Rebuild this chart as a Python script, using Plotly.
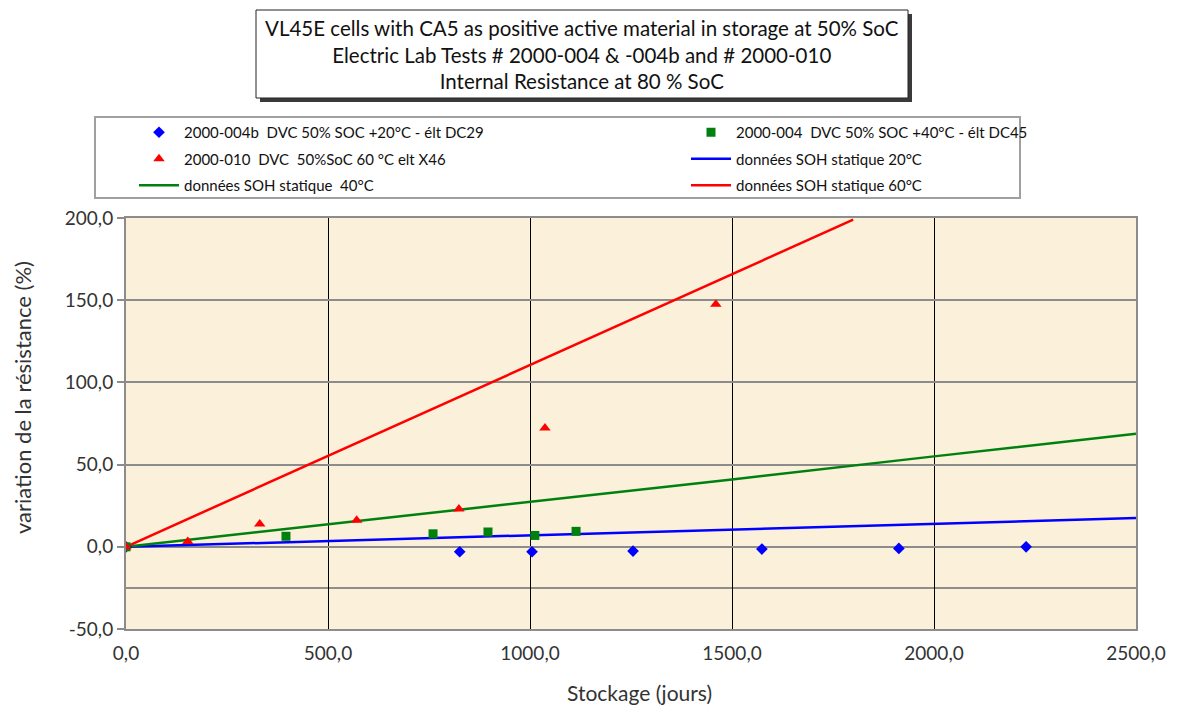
import plotly.graph_objects as go

# ---- data ----
days_20 = [0, 826, 1005, 1255, 1574, 1913, 2228]
res_20 = [0.0, -3.0, -3.0, -2.6, -1.4, -1.0, 0.0]

days_40 = [0, 396, 760, 896, 1012, 1114]
res_40 = [0.0, 6.4, 7.9, 9.0, 6.9, 9.4]

days_60 = [0, 153, 331, 571, 824, 1037, 1460]
res_60 = [0.0, 3.2, 13.9, 16.1, 23.0, 72.2, 147.5]

soh_days_20 = [0, 500, 1000, 1500, 2000, 2500]
soh_res_20 = [0.0, 3.5, 7.0, 10.5, 14.0, 17.5]

soh_days_40 = [0, 500, 1000, 1500, 2000, 2500]
soh_res_40 = [0.0, 13.6, 27.4, 41.0, 55.0, 68.7]

soh_days_60 = [0, 500, 1000, 1500, 1800]
soh_res_60 = [0.0, 55.3, 110.5, 165.8, 199.0]

y_tick_vals = [-50, 0, 50, 100, 150, 200]
y_tick_text = ["-50,0", "0,0", "50,0", "100,0", "150,0", "200,0"]

names = [
    "2000-004b  DVC 50% SOC +20°C - élt DC29",
    "2000-004  DVC 50% SOC +40°C - élt DC45",
    "2000-010  DVC  50%SoC 60 °C elt X46",
    "données SOH statique 20°C",
    "données SOH statique  40°C",
    "données SOH statique 60°C",
]
title_lines = [
    "VL45E cells with CA5 as positive active material in storage at 50% SoC",
    "Electric Lab Tests # 2000-004 & -004b and # 2000-010",
    "Internal Resistance at 80 % SoC",
]
x_title = "Stockage (jours)"
y_title = "variation de la résistance (%)"

BLUE = "#0000ff"
GREEN = "#00800f"
RED = "#ff0000"
FONT = "Lato"

fig = go.Figure()
# lines first (drawn underneath), markers on top
# column 1 of the legend -> "legend", column 2 -> "legend2"
fig.add_trace(go.Scatter(x=soh_days_20, y=soh_res_20, mode="lines", name=names[3],
                         line=dict(color=BLUE, width=2.5),
                         legend="legend2", legendrank=2, legendgroup="g4"))
fig.add_trace(go.Scatter(x=soh_days_40, y=soh_res_40, mode="lines", name=names[4],
                         line=dict(color=GREEN, width=2.5),
                         legend="legend", legendrank=3, legendgroup="g5"))
fig.add_trace(go.Scatter(x=soh_days_60, y=soh_res_60, mode="lines", name=names[5],
                         line=dict(color=RED, width=2.5),
                         legend="legend2", legendrank=3, legendgroup="g6"))
fig.add_trace(go.Scatter(x=days_20, y=res_20, mode="markers", name=names[0],
                         marker=dict(symbol="diamond", size=9, color=BLUE),
                         legend="legend", legendrank=1, legendgroup="g1"))
fig.add_trace(go.Scatter(x=days_40, y=res_40, mode="markers", name=names[1],
                         marker=dict(symbol="square", size=9, color=GREEN),
                         legend="legend2", legendrank=1, legendgroup="g2"))
fig.add_trace(go.Scatter(x=days_60, y=res_60, mode="markers", name=names[2],
                         marker=dict(symbol="triangle-up", size=10, color=RED),
                         legend="legend", legendrank=2, legendgroup="g3"))

# page body has an 8px margin: figure sized/positioned to compensate
OFF = 8
W, H = 1179 - OFF, 709 - OFF
L, T = 126 - OFF, 218 - OFF
R, B = 43, 80
pw, ph = W - L - R, H - T - B


def px_x(p):
    return (p - OFF - L) / pw


def px_y(p):
    return (H - B - (p - OFF)) / ph


legend_common = dict(
    orientation="v",
    yanchor="top", xanchor="left",
    borderwidth=0,
    bgcolor="rgba(0,0,0,0)",
    font=dict(family=FONT, size=15, color="#111111"),
    itemwidth=40,
    traceorder="grouped",
    tracegroupgap=4,
)

fig.update_layout(
    width=W, height=H,
    margin=dict(l=L, r=R, t=T, b=B),
    paper_bgcolor="white",
    plot_bgcolor="#fbf0da",
    separators=", ",
    font=dict(family=FONT, size=15, color="#222222"),
    showlegend=True,
    legend=dict(x=px_x(134), y=px_y(116), **legend_common),
    legend2=dict(x=px_x(686), y=px_y(116), **legend_common),
)

fig.update_xaxes(
    range=[0, 2500], dtick=500, tickformat=".1f",
    showgrid=True, gridcolor="#000000", gridwidth=1,
    showline=True, linecolor="#8c8c8c", linewidth=2, mirror=True,
    zeroline=False, ticks="", ticklabelstandoff=6,
    tickfont=dict(family=FONT, size=19, color="#333333"),
)
fig.update_yaxes(
    range=[-50, 200], tickvals=y_tick_vals, ticktext=y_tick_text,
    showgrid=True, gridcolor="#8c8c8c", gridwidth=1.5,
    showline=True, linecolor="#8c8c8c", linewidth=2, mirror=True,
    zeroline=False, ticks="outside", ticklen=7, tickcolor="#8c8c8c", tickwidth=1.5,
    tickfont=dict(family=FONT, size=19, color="#333333"),
)

# axis titles as annotations (placed as in the reference)
fig.add_annotation(xref="paper", yref="paper", x=px_x(639), y=px_y(692),
                   text=x_title, showarrow=False, xanchor="center", yanchor="middle",
                   font=dict(family=FONT, size=21, color="#333333"))
fig.add_annotation(xref="paper", yref="paper", x=px_x(22), y=px_y(398),
                   text=y_title, showarrow=False, textangle=-90,
                   xanchor="center", yanchor="middle",
                   font=dict(family=FONT, size=22, color="#333333"))

# extra horizontal line at -25
fig.add_shape(type="line", xref="paper", yref="y", x0=0, x1=1, y0=-25, y1=-25,
              line=dict(color="#6e6e6e", width=1.5), layer="below")

# legend frame
fig.add_shape(type="rect", xref="paper", yref="paper",
              x0=px_x(95), x1=px_x(1020), y0=px_y(198), y1=px_y(117),
              fillcolor="white", line=dict(color="#a0a0a0", width=2), layer="below")

# title box with shadow
bx0, bx1, by0, by1 = px_x(256), px_x(908), px_y(98), px_y(10)
sx, sy = 4 / pw, 4 / ph
fig.add_shape(type="rect", xref="paper", yref="paper",
              x0=bx0 + sx, x1=bx1 + sx, y0=by0 - sy, y1=by1 - sy,
              fillcolor="#3a3a3a", line=dict(width=0))
fig.add_shape(type="rect", xref="paper", yref="paper",
              x0=bx0, x1=bx1, y0=by0, y1=by1,
              fillcolor="white", line=dict(color="#222222", width=1))
fig.add_annotation(xref="paper", yref="paper", x=(bx0 + bx1) / 2, y=(by0 + by1) / 2,
                   text="<br>".join(title_lines), showarrow=False, align="center",
                   xanchor="center", yanchor="middle",
                   font=dict(family=FONT, size=20.5, color="#111111"))

fig.write_html("out.html")
